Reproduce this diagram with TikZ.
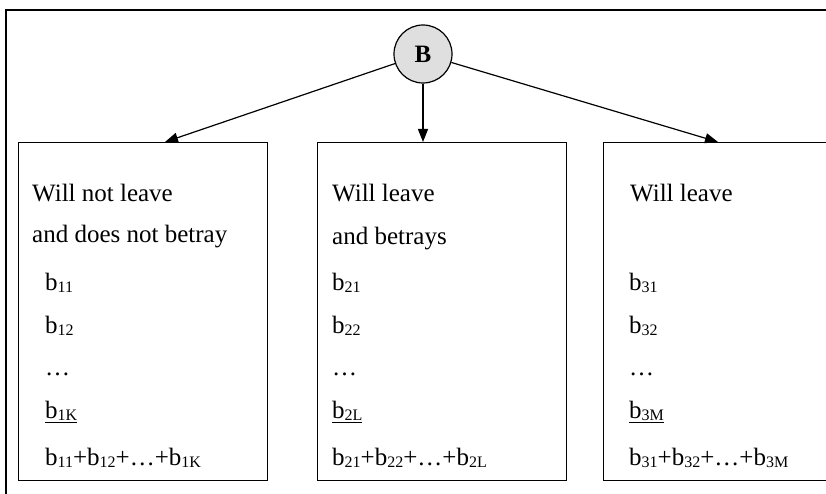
\documentclass[tikz,border=0pt]{standalone}
\usepackage{fontspec}
\setmainfont{Liberation Serif}
\usetikzlibrary{arrows.meta}
\newcommand\lo[1]{\raisebox{-2.5pt}{\fontsize{16}{16}\selectfont #1}}
\begin{document}
\begin{tikzpicture}[x=1pt,y=-1pt,
  lbl/.style={anchor=base west, inner sep=0pt, font=\fontsize{25}{25}\selectfont},
  boxx/.style={draw, line width=1.2pt, inner sep=0pt, anchor=north west, minimum height=338pt},
  arr/.style={-{Triangle[length=13pt,width=10pt]}, line width=1.2pt}]
\useasboundingbox (0,0) rectangle (826,494);
\clip (0,0) rectangle (826,494);
\draw[line width=1.8pt] (6,494) -- (6,10) -- (826,10);
\node[boxx, minimum width=249pt] (b1) at (18,142) {};
\node[boxx, minimum width=249pt] (b2) at (317,142) {};
\node[boxx, minimum width=260pt] (b3) at (603,142) {};
\node[circle, draw, fill=gray!25, line width=1.2pt, minimum size=58pt, inner sep=0pt,
      font=\bfseries\fontsize{25}{25}\selectfont] (B) at (423,54) {B};
\coordinate (t1) at (165,142);
\coordinate (t3) at (718,142);
\draw[arr] (B) -- (t1);
\draw[arr] (B) -- (B |- b2.north);
\draw[arr] (B) -- (t3);
% left
\node[lbl] (l1) at (32,202) {Will not leave};
\node[lbl] (l2) at (32,242) {and does not betray};
\node[lbl] (l3) at (45,290) {b\lo{11}};
\node[lbl] (l4) at (45,333) {b\lo{12}};
\node[lbl] (l5) at (45,375) {…};
\node[lbl] (l6) at (45,418) {\underline{b\lo{1K}}};
\node[lbl] (l7) at (45,465) {b\lo{11}+b\lo{12}+…+b\lo{1K}};
% middle
\node[lbl] (m1) at (332,202) {Will leave};
\node[lbl] (m2) at (332,244) {and betrays};
\node[lbl] (m3) at (332,290) {b\lo{21}};
\node[lbl] (m4) at (332,333) {b\lo{22}};
\node[lbl] (m5) at (332,375) {…};
\node[lbl] (m6) at (332,418) {\underline{b\lo{2L}}};
\node[lbl] (m7) at (332,465) {b\lo{21}+b\lo{22}+…+b\lo{2L}};
% right
\node[lbl] (r1) at (630,202) {Will leave};
\node[lbl] (r3) at (629,290) {b\lo{31}};
\node[lbl] (r4) at (629,333) {b\lo{32}};
\node[lbl] (r5) at (629,375) {…};
\node[lbl] (r6) at (629,418) {\underline{b\lo{3M}}};
\node[lbl] (r7) at (629,465) {b\lo{31}+b\lo{32}+…+b\lo{3M}};
\end{tikzpicture}
\end{document}
